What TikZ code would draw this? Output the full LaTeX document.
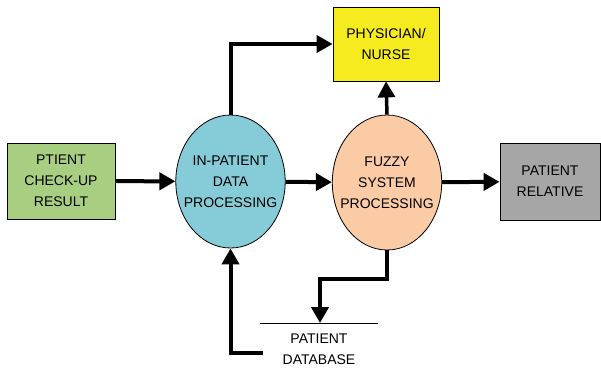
\documentclass[tikz,border=0pt]{standalone}
\usepackage{fontspec}
\setmainfont{Liberation Sans}
\usetikzlibrary{shapes.geometric,arrows.meta}
\newlength{\du}
\setlength{\du}{1pt}

\definecolor{resultgreen}{RGB}{168,206,130}
\definecolor{inpatientblue}{RGB}{134,204,216}
\definecolor{fuzzyorange}{RGB}{251,203,165}
\definecolor{staffyellow}{RGB}{245,235,30}
\definecolor{relativegray}{RGB}{166,166,166}

\tikzset{
  entity/.style={draw=black, line width=0.8pt, inner sep=0pt, align=center,
    font=\fontsize{14}{21}\selectfont},
  process/.style={ellipse, draw=black, line width=0.8pt, inner xsep=-8pt, inner ysep=0pt,
    align=center, font=\fontsize{14}{21}\selectfont},
  flow/.style={line width=4pt, -{Triangle[length=16pt,width=17pt]}},
}

\begin{document}
\begin{tikzpicture}[yscale=-1]
\useasboundingbox (0\du,0\du) rectangle (601\du,378\du);
% external entities
\node[entity, fill=resultgreen, minimum width=108\du, minimum height=76\du] (checkup) at (61\du,181\du) {PTIENT\\CHECK-UP\\RESULT};
\node[entity, fill=staffyellow, minimum width=106\du, minimum height=74\du] (physician) at (386\du,44\du) {PHYSICIAN/\\NURSE};
\node[entity, fill=relativegray, minimum width=100\du, minimum height=77\du] (relative) at (550\du,181.5\du) {PATIENT\\RELATIVE};
% processes
\node[process, fill=inpatientblue, minimum width=109\du, minimum height=133\du] (inpatient) at (230.5\du,181.5\du) {IN-PATIENT\\DATA\\PROCESSING};
\node[process, fill=fuzzyorange, minimum width=108\du, minimum height=135\du] (fuzzy) at (387\du,182.5\du) {FUZZY\\SYSTEM\\PROCESSING};
% data store
\coordinate (dbleft) at (260\du,323\du);
\coordinate (dbright) at (378\du,323\du);
\coordinate (dbin) at (320\du,323\du);
\coordinate (dbout) at (263\du,353\du);
\draw[line width=0.8pt] (dbleft) -- (dbright);
\node[align=center, font=\fontsize{14}{21}\selectfont] (database) at (319\du,349\du) {PATIENT\\DATABASE};
% data flows
\draw[flow] (checkup) -- (inpatient);
\draw[flow] (inpatient) -- (fuzzy);
\draw[flow] (fuzzy) -- (relative);
\draw[flow] (inpatient.north) |- (physician.west);
\draw[flow, line width=3.5pt] (fuzzy.north) -- (physician.south);
\draw[flow] (fuzzy.south) -- ++(0\du,29\du) -| (dbin);
\draw[flow] (dbout) -| (inpatient.south);
\end{tikzpicture}
\end{document}
